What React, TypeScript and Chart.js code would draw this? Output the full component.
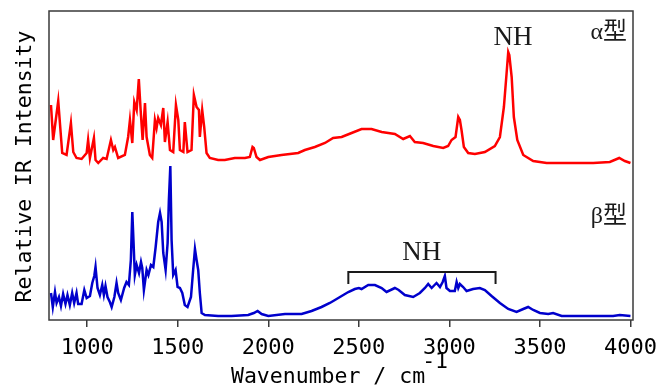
import React, { useEffect, useRef } from "react";
import { Chart, registerables } from "chart.js";

Chart.register(...registerables);

const tickValues = [1000, 1500, 2000, 2500, 3000, 3500, 4000];

const alphaWavenumbers = [
  800, 812, 840, 862, 886, 910, 923, 941, 969, 997, 1005, 1015, 1037, 1046, 1061, 1088, 1107, 1131, 1144, 1153,
  1171, 1208, 1226, 1236, 1249, 1260, 1273, 1285, 1295, 1306, 1319, 1328, 1346, 1359, 1374, 1383, 1392, 1407,
  1420, 1429, 1444, 1457, 1475, 1490, 1503, 1512, 1531, 1539, 1554, 1576, 1589, 1604, 1617, 1622, 1635, 1646,
  1659, 1677, 1723, 1760, 1815, 1871, 1898, 1913, 1920, 1935, 1954, 2000, 2073, 2165, 2202, 2257, 2313, 2358,
  2405, 2460, 2515, 2570, 2626, 2699, 2745, 2782, 2809, 2855, 2911, 2966, 2993, 3012, 3034, 3049, 3058, 3067,
  3080, 3104, 3141, 3196, 3251, 3279, 3301, 3316, 3325, 3331, 3344, 3356, 3375, 3408, 3463, 3537, 3665, 3794,
  3886, 3938, 3969, 4000,
];
const alphaIntensity = [
  215, 180, 219, 167, 165, 197, 168, 162, 161, 167, 180, 162, 182, 160, 157, 162, 161, 180, 170, 173,
  162, 165, 183, 200, 177, 218, 210, 241, 210, 180, 217, 183, 165, 162, 200, 192, 202, 195,
  212, 178, 198, 170, 168, 215, 200, 170, 168, 198, 168, 170, 225, 213, 210, 183, 210, 193,
  167, 162, 160, 160, 162, 162, 163, 173, 172, 163, 160, 163, 165, 167, 170, 173, 177, 182,
  183, 187, 191, 191, 188, 186, 181, 184, 178, 177, 174, 172, 174, 180, 183, 203, 200, 190,
  173, 167, 166, 168, 174, 183, 213, 247, 268, 265, 243, 203, 180, 165, 159, 157, 157, 157,
  158, 162, 159, 157,
];

const betaWavenumbers = [
  800, 810, 822, 831, 844, 855, 867, 880, 891, 904, 917, 928, 941, 950, 969, 984, 997, 1015, 1028, 1039,
  1046, 1057, 1070, 1083, 1092, 1101, 1112, 1125, 1135, 1150, 1162, 1171, 1186, 1204, 1217, 1230, 1241, 1249,
  1256, 1263, 1273, 1286, 1297, 1304, 1313, 1328, 1338, 1352, 1365, 1378, 1392, 1402, 1411, 1420, 1433, 1444,
  1451, 1459, 1466, 1475, 1488, 1499, 1512, 1525, 1539, 1554, 1573, 1585, 1595, 1604, 1613, 1622, 1632, 1650,
  1723, 1797, 1889, 1920, 1941, 1963, 2000, 2092, 2184, 2239, 2294, 2340, 2368, 2405, 2442, 2478, 2500, 2515,
  2552, 2589, 2626, 2653, 2699, 2720, 2754, 2800, 2837, 2865, 2883, 2902, 2929, 2948, 2963, 2975, 2984, 3003,
  3030, 3040, 3049, 3058, 3076, 3095, 3131, 3168, 3196, 3233, 3279, 3325, 3371, 3408, 3435, 3463, 3500, 3546,
  3573, 3620, 3758, 3904, 3941, 4000,
];
const betaIntensity = [
  27, 13, 28, 17, 23, 14, 26, 16, 25, 15, 27, 17, 27, 16, 16, 30, 22, 24, 37, 44,
  53, 32, 25, 35, 25, 34, 23, 18, 13, 23, 37, 27, 20, 32, 38, 35, 60, 108,
  77, 45, 55, 47, 58, 52, 30, 50, 45, 55, 53, 73, 98, 107, 98, 67, 50, 77,
  120, 154, 80, 45, 50, 33, 32, 27, 15, 13, 23, 50, 71, 60, 50, 27, 7, 5,
  4, 4, 5, 7, 9, 6, 4, 6, 6, 9, 13, 17, 20, 24, 28, 31, 32, 31,
  35, 35, 32, 28, 32, 30, 25, 23, 27, 32, 36, 32, 37, 33, 38, 44, 32, 29,
  29, 38, 32, 36, 33, 29, 31, 32, 30, 24, 17, 11, 8, 11, 13, 10, 7, 6,
  7, 4, 4, 4, 5, 4,
];

const xMin = 789;
const xMax = 4014;
const yMin = 0;
const yMax = 309;

const alphaLabel = "α型";
const betaLabel = "β型";
const nhLabel = "NH";
const yTitle = "Relative IR Intensity";
const xTitle = "Wavenumber / cm";
const xTitleSup = "-1";

const monoFont = "'DejaVu Sans Mono', monospace";

const overlayPlugin = {
  id: "overlay",
  afterDraw(chart: any) {
    const { ctx, chartArea, scales } = chart;
    const xs = scales.x;
    const ys = scales.y;
    ctx.save();
    // frame
    ctx.strokeStyle = "#3a3a3a";
    ctx.lineWidth = 1.5;
    ctx.strokeRect(chartArea.left, chartArea.top, chartArea.right - chartArea.left, chartArea.bottom - chartArea.top);

    // y title
    ctx.fillStyle = "#000";
    ctx.font = `21.5px ${monoFont}`;
    ctx.textAlign = "center";
    ctx.textBaseline = "middle";
    ctx.save();
    ctx.translate(25, (chartArea.top + chartArea.bottom) / 2 + 1);
    ctx.rotate(-Math.PI / 2);
    ctx.fillText(yTitle, 0, 0);
    ctx.restore();

    // x title
    ctx.font = `21.5px ${monoFont}`;
    const wMain = ctx.measureText(xTitle).width;
    const wSup = ctx.measureText(xTitleSup).width;
    const cx = (chartArea.left + chartArea.right) / 2;
    const start = cx - (wMain + wSup) / 2;
    ctx.textAlign = "left";
    ctx.textBaseline = "alphabetic";
    ctx.fillText(xTitle, start, 383);
    ctx.fillText(xTitleSup, start + wMain - 3, 368);

    // annotations
    ctx.font = "27px 'Liberation Serif', 'Times New Roman', serif";
    ctx.textAlign = "center";
    ctx.textBaseline = "middle";
    ctx.fillStyle = "#1a1a1a";
    ctx.fillText(nhLabel, xs.getPixelForValue(3351), ys.getPixelForValue(282));
    ctx.fillText(nhLabel, xs.getPixelForValue(2848), ys.getPixelForValue(67));

    // bracket
    const bx1 = xs.getPixelForValue(2442);
    const bx2 = xs.getPixelForValue(3255);
    const by = ys.getPixelForValue(48);
    const byEnd = ys.getPixelForValue(36);
    ctx.strokeStyle = "#1a1a1a";
    ctx.lineWidth = 2;
    ctx.beginPath();
    ctx.moveTo(bx1, byEnd);
    ctx.lineTo(bx1, by);
    ctx.lineTo(bx2, by);
    ctx.lineTo(bx2, byEnd);
    ctx.stroke();

    // form labels
    ctx.font = "24px 'Liberation Serif', 'Noto Sans CJK JP', serif";
    ctx.textAlign = "right";
    ctx.fillStyle = "#1a1a1a";
    ctx.fillText(alphaLabel, chartArea.right - 6, ys.getPixelForValue(287));
    ctx.fillText(betaLabel, chartArea.right - 6, ys.getPixelForValue(103));
    ctx.restore();
  },
};

export default function App() {
  const canvasRef = useRef<HTMLCanvasElement | null>(null);

  useEffect(() => {
    document.body.style.margin = "0";
    const canvas = canvasRef.current;
    if (!canvas) return;
    const alphaData = alphaWavenumbers.map((x, i) => ({ x, y: alphaIntensity[i] }));
    const betaData = betaWavenumbers.map((x, i) => ({ x, y: betaIntensity[i] }));
    const chart = new Chart(canvas, {
      type: "line",
      data: {
        datasets: [
          {
            label: alphaLabel,
            data: alphaData,
            borderColor: "#ff0000",
            borderWidth: 2.5,
            pointRadius: 0,
            tension: 0,
          },
          {
            label: betaLabel,
            data: betaData,
            borderColor: "#0000cc",
            borderWidth: 2.5,
            pointRadius: 0,
            tension: 0,
          },
        ],
      },
      options: {
        animation: false,
        responsive: false,
        devicePixelRatio: 1,
        layout: { padding: { left: 0, right: 26, top: 11, bottom: 0 } },
        plugins: {
          legend: { display: false },
          tooltip: { enabled: false },
        },
        scales: {
          x: {
            type: "linear",
            min: xMin,
            max: xMax,
            afterBuildTicks: (scale: any) => {
              scale.ticks = tickValues.map((v) => ({ value: v }));
            },
            afterFit: (scale: any) => {
              scale.height = 68;
              scale.paddingLeft = 0;
              scale.paddingRight = 0;
            },
            ticks: {
              autoSkip: false,
              maxRotation: 0,
              padding: 8,
              color: "#000",
              font: { family: monoFont, size: 22 },
              callback: (v: any) => String(v),
            },
            grid: {
              display: true,
              drawOnChartArea: false,
              drawTicks: true,
              tickLength: 7,
              color: "#3a3a3a",
              lineWidth: 1.5,
            },
            border: { display: false },
          },
          y: {
            type: "linear",
            min: yMin,
            max: yMax,
            afterFit: (scale: any) => {
              scale.width = 49;
              scale.paddingTop = 0;
              scale.paddingBottom = 0;
            },
            ticks: { display: false },
            grid: { display: false },
            border: { display: false },
          },
        },
      },
      plugins: [overlayPlugin],
    });
    return () => chart.destroy();
  }, []);

  return <canvas ref={canvasRef} width={659} height={388} style={{ display: "block" }} />;
}
